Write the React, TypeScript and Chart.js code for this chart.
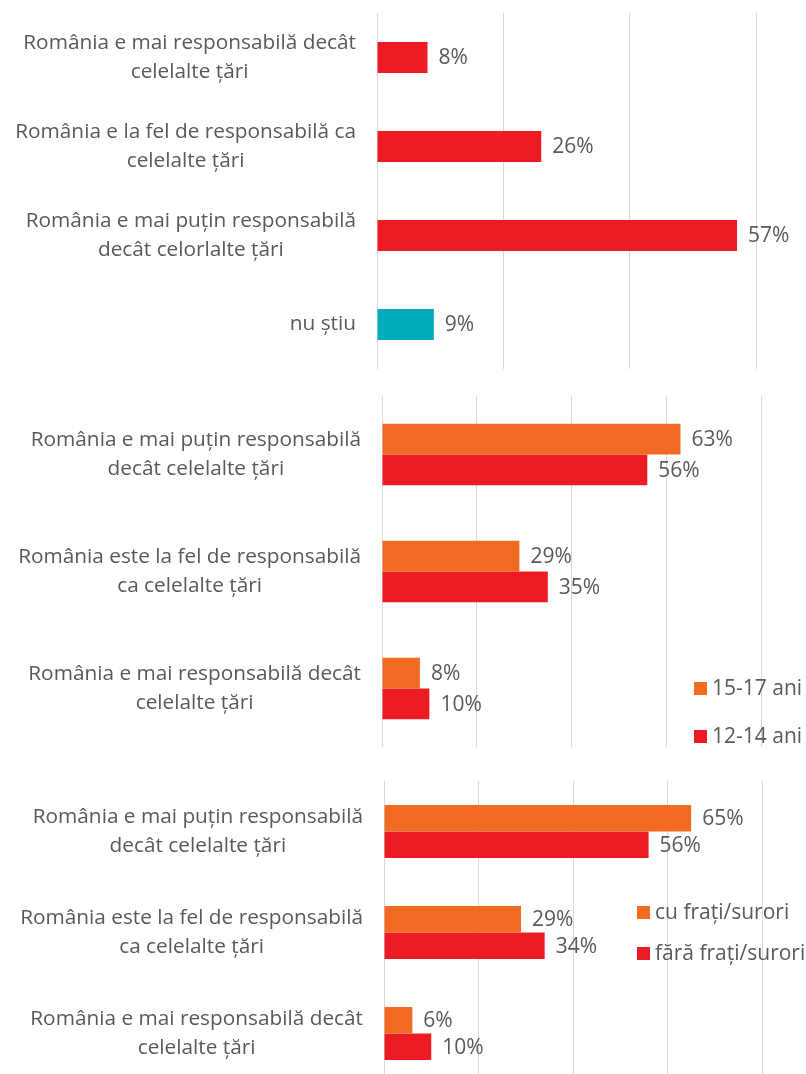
import { useEffect, useRef } from "react";
import { Chart, registerables } from "chart.js";

Chart.register(...registerables);

const RED = "#ED1C24";
const ORANGE = "#F26B23";
const TEAL = "#00ACBA";
const TEXT = "#595959";
const GRID = "#D9D9D9";
const FONT = "'Open Sans', sans-serif";

// ---- Chart 1 ----
const cats1 = [
  ["România e mai responsabilă decât", "celelalte țări"],
  ["România e la fel de responsabilă ca", "celelalte țări"],
  ["România e mai puțin responsabilă", "decât celorlalte țări"],
  ["nu știu"],
];
const vals1 = [8, 26, 57, 9];
const colors1 = [RED, RED, RED, TEAL];

// ---- Chart 2 ----
const cats2 = [
  ["România e mai puțin responsabilă", "decât celelalte țări"],
  ["România este la fel de responsabilă", "ca celelalte țări"],
  ["România e mai responsabilă decât", "celelalte țări"],
];
const series2Names = ["15-17 ani", "12-14 ani"];
const age1517 = [63, 29, 8];
const age1214 = [56, 35, 10];

// ---- Chart 3 ----
const cats3 = [
  ["România e mai puțin responsabilă", "decât celelalte țări"],
  ["România este la fel de responsabilă", "ca celelalte țări"],
  ["România e mai responsabilă decât", "celelalte țări"],
];
const series3Names = ["cu frați/surori", "fără frați/surori"];
const withSiblings = [65, 29, 6];
const noSiblings = [56, 34, 10];

const catLabelPlugin = {
  id: "catLabels",
  afterDraw(chart: any) {
    const opts = chart.options.plugins.catLabels;
    if (!opts) return;
    const ctx = chart.ctx;
    const yScale = chart.scales.y;
    ctx.save();
    ctx.font = `${opts.size}px ${FONT}`;
    ctx.fillStyle = TEXT;
    ctx.textBaseline = "middle";
    ctx.textAlign = "center";
    const right = chart.chartArea.left - opts.gap;
    chart.data.labels.forEach((lab: string[], i: number) => {
      const y = yScale.getPixelForTick(i);
      const w = Math.max(...lab.map((l) => ctx.measureText(l).width));
      const cx = right - w / 2;
      const n = lab.length;
      lab.forEach((line, j) => {
        ctx.fillText(line, cx, y + (j - (n - 1) / 2) * opts.lineHeight);
      });
    });
    ctx.restore();
  },
};

const valueLabelPlugin = {
  id: "valueLabels",
  afterDatasetsDraw(chart: any) {
    const ctx = chart.ctx;
    ctx.save();
    ctx.font = `21px ${FONT}`;
    ctx.fillStyle = TEXT;
    ctx.textBaseline = "middle";
    ctx.textAlign = "left";
    chart.data.datasets.forEach((ds: any, di: number) => {
      const meta = chart.getDatasetMeta(di);
      meta.data.forEach((el: any, i: number) => {
        ctx.fillText(`${ds.data[i]}%`, el.x + 11, el.y + 1);
      });
    });
    ctx.restore();
  },
};

const legendPlugin = {
  id: "sideLegend",
  afterDraw(chart: any) {
    const opts = chart.options.plugins.sideLegend;
    if (!opts) return;
    const ctx = chart.ctx;
    ctx.save();
    ctx.font = `21px ${FONT}`;
    ctx.textBaseline = "middle";
    ctx.textAlign = "left";
    chart.data.datasets.forEach((ds: any, i: number) => {
      const cy = opts.y + i * opts.step;
      ctx.fillStyle = ds.backgroundColor;
      ctx.fillRect(opts.x, cy - opts.box / 2, opts.box, opts.box);
      ctx.fillStyle = TEXT;
      ctx.fillText(ds.label, opts.x + opts.box + 5, cy + 1);
    });
    ctx.restore();
  },
};

function makeConfig(
  labels: string[][],
  datasets: any[],
  xMax: number,
  pad: { left: number; right: number; top: number; bottom: number },
  pct: number,
  legend: any
): any {
  return {
    type: "bar",
    data: {
      labels,
      datasets: datasets.map((d) => ({
        ...d,
        borderWidth: 0,
        categoryPercentage: pct,
        barPercentage: 1,
      })),
    },
    options: {
      indexAxis: "y",
      animation: false,
      responsive: false,
      maintainAspectRatio: false,
      layout: { padding: { left: 0, right: pad.right, top: pad.top, bottom: pad.bottom } },
      scales: {
        x: {
          min: 0,
          max: xMax,
          ticks: { display: false, stepSize: 20 },
          grid: { color: GRID, lineWidth: 1, drawTicks: false },
          border: { display: false },
          afterFit: (s: any) => {
            s.height = 0;
          },
        },
        y: {
          ticks: { display: false },
          grid: { display: false },
          border: { display: false },
          afterFit: (s: any) => {
            s.width = pad.left;
          },
        },
      },
      plugins: {
        legend: { display: false },
        tooltip: { enabled: false },
        catLabels: { size: 20.8, gap: 21, lineHeight: 28.5 },
        sideLegend: legend,
      },
    },
    plugins: [catLabelPlugin, valueLabelPlugin, legendPlugin],
  };
}

function ChartBox({ top, height, canvasHeight, config }: any) {
  const ref = useRef<HTMLCanvasElement>(null);
  useEffect(() => {
    const chart = new Chart(ref.current as HTMLCanvasElement, config());
    return () => chart.destroy();
  }, []);
  return (
    <div style={{ position: "absolute", left: 0, top, width: 806, height, overflow: "hidden" }}>
      <canvas
        ref={ref}
        width={806}
        height={canvasHeight}
        style={{ display: "block", width: 806, height: canvasHeight }}
      />
    </div>
  );
}

export default function App() {
  return (
    <div
      style={{
        position: "absolute",
        left: 0,
        top: 0,
        width: 806,
        height: 1074,
        overflow: "hidden",
        background: "#fff",
      }}
    >
      <ChartBox
        top={0}
        height={380}
        canvasHeight={380}
        config={() =>
          makeConfig(
            cats1,
            [{ label: "total", data: vals1, backgroundColor: colors1 }],
            60,
            { left: 377, right: 50, top: 13, bottom: 11 },
            0.35,
            null
          )
        }
      />
      <ChartBox
        top={380}
        height={370}
        canvasHeight={370}
        config={() =>
          makeConfig(
            cats2,
            [
              { label: series2Names[0], data: age1517, backgroundColor: ORANGE },
              { label: series2Names[1], data: age1214, backgroundColor: RED },
            ],
            80,
            { left: 382, right: 45, top: 16, bottom: 3 },
            0.525,
            { x: 694, y: 308.5, step: 48, box: 13 }
          )
        }
      />
      <ChartBox
        top={750}
        height={324}
        canvasHeight={340}
        config={() =>
          makeConfig(
            cats3,
            [
              { label: series3Names[0], data: withSiblings, backgroundColor: ORANGE },
              { label: series3Names[1], data: noSiblings, backgroundColor: RED },
            ],
            80,
            { left: 384, right: 44, top: 31, bottom: 6 },
            0.524,
            { x: 637, y: 162.5, step: 41, box: 13 }
          )
        }
      />
    </div>
  );
}
